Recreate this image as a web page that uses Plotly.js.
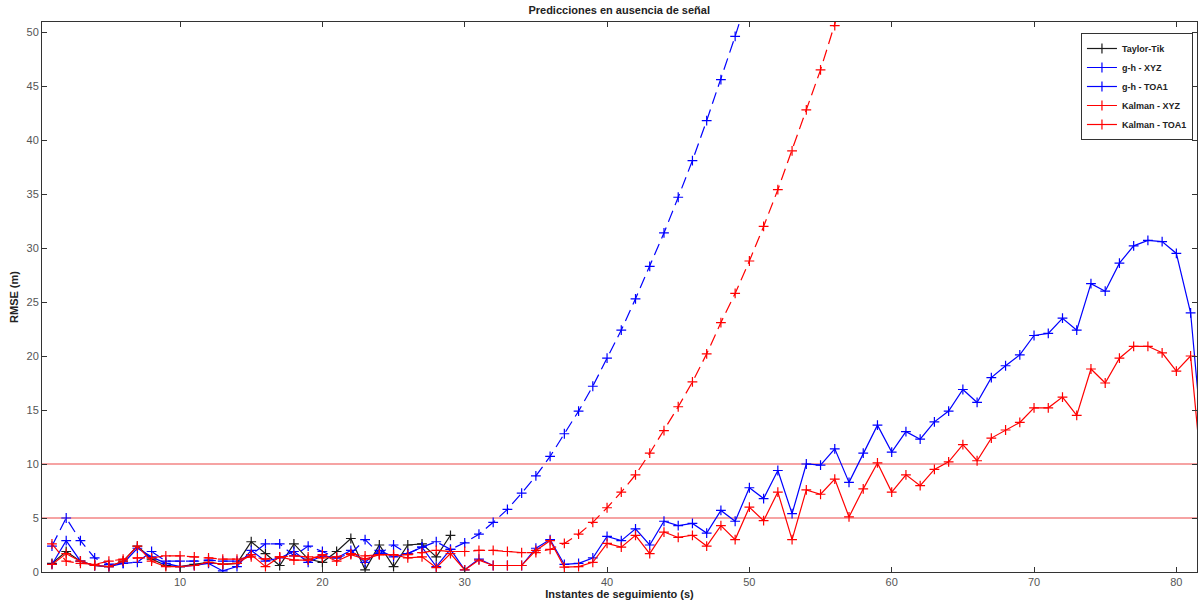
<!DOCTYPE html>
<html>
<head>
<meta charset="utf-8">
<script src="https://cdn.plot.ly/plotly-3.0.1.min.js"></script>
<style>html,body{margin:0;padding:0;background:#fff}#chart{width:1200px;height:605px}</style>
</head>
<body>
<div id="chart"></div>
<script>
// RMSE (m) per tracking instant (s), starting at instant 1
const taylorTik = [0.8, 1.9, 1.0, 0.6, 0.5, 1.0, 2.4, 1.2, 0.6, 0.5,
  0.7, 0.9, 0.7, 0.8, 2.8, 1.7, 0.6, 2.6, 1.2, 0.9,
  1.9, 3.1, 0.2, 2.5, 0.5, 2.5, 2.6, 1.4, 3.4];

const ghXYZ = [2.4, 5.0, 2.9, 1.3, 0.7, 0.8, 0.9, 1.9, 1.0, 1.0,
  1.0, 1.1, 1.0, 1.0, 1.6, 2.6, 2.6, 1.5, 2.4, 1.9,
  1.3, 1.7, 3.0, 1.7, 2.5, 1.7, 2.3, 2.8, 2.1, 2.7,
  3.5, 4.6, 5.8, 7.3, 8.9, 10.7, 12.8, 14.9, 17.2, 19.8,
  22.4, 25.3, 28.3, 31.4, 34.7, 38.1, 41.8, 45.6, 49.6, 53.8];

const ghTOA1 = [0.7, 2.9, 1.0, 0.6, 0.5, 0.8, 2.2, 1.4, 0.8, 0.5,
  0.6, 0.8, 0.1, 0.5, 2.0, 1.0, 1.3, 1.9, 0.9, 1.5,
  1.3, 2.0, 0.9, 2.0, 1.4, 1.7, 2.3, 0.5, 2.1, 0.2,
  1.2, 0.6, 0.6, 0.6, 2.2, 3.0, 0.7, 0.8, 1.3, 3.3,
  2.9, 4.0, 2.5, 4.7, 4.3, 4.5, 3.6, 5.7, 4.7, 7.8,
  6.8, 9.4, 5.4, 10.0, 9.9, 11.4, 8.3, 11.0, 13.6, 11.1,
  13.0, 12.3, 13.9, 14.9, 16.9, 15.7, 18.0, 19.1, 20.1, 21.9,
  22.1, 23.5, 22.4, 26.7, 26.0, 28.6, 30.2, 30.7, 30.6, 29.5,
  24.0, 9.5];

const kalmanXYZ = [2.6, 1.0, 0.8, 0.7, 1.0, 1.2, 1.3, 1.3, 1.5, 1.5,
  1.4, 1.3, 1.2, 1.2, 1.4, 1.2, 1.4, 1.5, 1.4, 1.3,
  1.4, 1.7, 1.5, 1.6, 1.6, 1.6, 1.8, 2.0, 1.9, 1.9,
  2.0, 2.0, 1.9, 1.8, 1.8, 2.1, 2.65, 3.5, 4.6, 5.95,
  7.4, 9.0, 11.0, 13.1, 15.3, 17.6, 20.2, 23.1, 25.8, 28.8,
  32.0, 35.4, 39.0, 42.8, 46.5, 50.6, 55.0];

const kalmanTOA1 = [0.7, 1.7, 1.0, 0.6, 0.5, 1.0, 2.4, 1.0, 0.5, 0.5,
  0.6, 0.9, 0.7, 0.8, 1.6, 0.5, 1.4, 1.1, 1.1, 1.6,
  1.0, 1.6, 1.2, 1.6, 1.6, 1.3, 1.4, 0.4, 1.7, 0.2,
  1.1, 0.6, 0.6, 0.6, 2.0, 2.9, 0.45, 0.5, 0.9, 2.65,
  2.3, 3.4, 1.7, 3.7, 3.2, 3.4, 2.4, 4.3, 3.0, 6.0,
  4.75, 7.4, 3.0, 7.6, 7.2, 8.6, 5.1, 7.7, 10.1, 7.4,
  9.0, 8.0, 9.5, 10.2, 11.8, 10.3, 12.4, 13.15, 13.85, 15.2,
  15.2, 16.2, 14.5, 18.8, 17.5, 19.8, 20.9, 20.9, 20.3, 18.6,
  20.0, 6.0];

const thresholds = [5, 10];
const xTicks = [10, 20, 30, 40, 50, 60, 70, 80];
const yTicks = [0, 5, 10, 15, 20, 25, 30, 35, 40, 45, 50];
const seriesNames = ['Taylor-Tik', 'g-h - XYZ', 'g-h - TOA1', 'Kalman - XYZ', 'Kalman - TOA1'];

const instants = arr => arr.map((_, i) => i + 1);
const FONT = 'Liberation Sans, Arial, Helvetica, sans-serif';

function series(name, ys, color, dash) {
  return {
    type: 'scatter', mode: 'lines+markers', name: name,
    x: instants(ys), y: ys,
    line: {color: color, width: 1.2, dash: dash},
    marker: {symbol: 'cross-thin-open', size: 7, line: {color: color, width: 1.2}}
  };
}

const traces = [
  series(seriesNames[0], taylorTik, '#1a1a1a', 'solid'),
  series(seriesNames[1], ghXYZ, '#0000ff', '12px,6px'),
  series(seriesNames[2], ghTOA1, '#0000ff', 'solid'),
  series(seriesNames[3], kalmanXYZ, '#ff0000', '12px,6px'),
  series(seriesNames[4], kalmanTOA1, '#ff0000', 'solid')
];

const axisCommon = {
  ticks: 'inside', ticklen: 5, tickwidth: 1, tickcolor: '#333',
  showline: true, linecolor: '#333', linewidth: 1, mirror: 'ticks',
  showgrid: false, zeroline: false,
  tickfont: {family: FONT, size: 11, color: '#555'}
};

const layout = {
  width: 1200, height: 605,
  paper_bgcolor: '#fff', plot_bgcolor: '#fff',
  margin: {l: 42, r: 3, t: 22, b: 33},
  title: {text: 'Predicciones en ausencia de señal', x: 0.516, xref: 'container', y: 0.984, yref: 'container', yanchor: 'middle',
    font: {family: FONT, size: 11, weight: 'bold', color: '#222'}},
  xaxis: Object.assign({}, axisCommon, {
    range: [0.3, 81.45], tickvals: xTicks,
    title: {text: 'Instantes de seguimiento (s)', standoff: 2, font: {family: FONT, size: 11, weight: 'bold', color: '#222'}}
  }),
  yaxis: Object.assign({}, axisCommon, {
    range: [0, 50.93], tickvals: yTicks,
    title: {text: 'RMSE (m)', standoff: 5, font: {family: FONT, size: 11, weight: 'bold', color: '#222'}}
  }),
  shapes: thresholds.map(t => ({
    type: 'line', xref: 'paper', x0: 0, x1: 1, yref: 'y', y0: t, y1: t,
    line: {color: 'rgba(235,40,40,0.85)', width: 1.2}, layer: 'below'
  })),
  showlegend: true,
  legend: {
    x: 0.9965, xanchor: 'right', y: 0.98, yanchor: 'top',
    bgcolor: '#fff', bordercolor: '#333', borderwidth: 1,
    font: {family: FONT, size: 9, weight: 'bold', color: '#222'},
    tracegroupgap: 0, itemwidth: 30
  }
};

Plotly.newPlot('chart', traces, layout, {displayModeBar: false, staticPlot: true});
</script>
</body>
</html>
